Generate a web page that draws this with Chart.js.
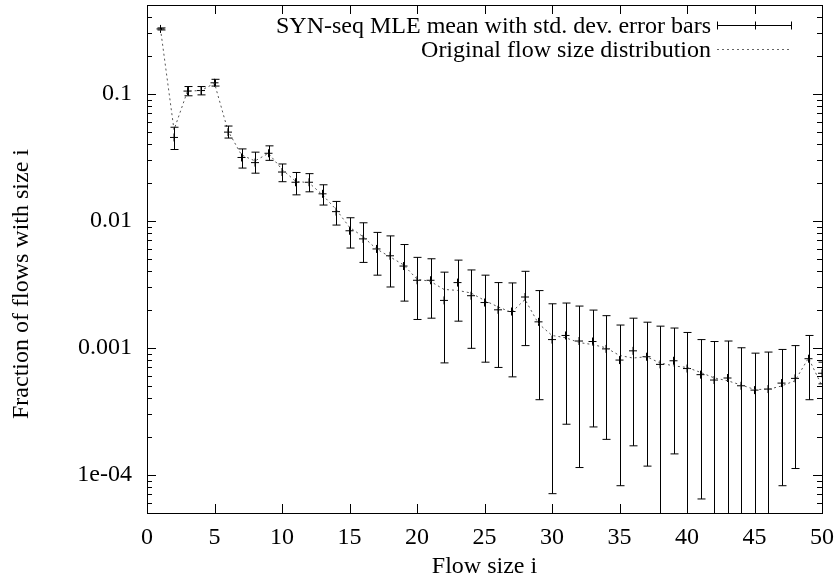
<!DOCTYPE html>
<html>
<head>
<meta charset="utf-8">
<title>Flow size distribution</title>
<script src="https://cdn.jsdelivr.net/npm/chart.js@4.4.1/dist/chart.umd.min.js"></script>
<style>
html,body{margin:0;padding:0;background:#fff;}
#wrap{width:838px;height:585px;}
</style>
</head>
<body>
<div id="wrap"><canvas id="flowChart" width="838" height="585"></canvas></div>
<script>
// flow sizes 1..50
var flowSizes = [1,2,3,4,5,6,7,8,9,10,11,12,13,14,15,16,17,18,19,20,21,22,23,24,25,
	26,27,28,29,30,31,32,33,34,35,36,37,38,39,40,41,42,43,44,45,46,47,48,49,50];

// SYN-seq MLE mean
var mleMean = [0.324,0.0453,0.105,0.106,0.122,0.0499,0.0315,0.0287,0.034,0.0242,
	0.0201,0.0201,0.0163,0.0118,0.00834,0.0072,0.0060,0.0053,0.0044,0.0034,
	0.0034,0.00236,0.00326,0.00257,0.00227,0.00199,0.00193,0.00251,0.0016,0.00116,
	0.00125,0.00113,0.00112,0.00098,0.0008,0.000946,0.00085,0.00074,0.00079,0.000686,
	0.000614,0.000557,0.000578,0.000502,0.000464,0.000473,0.000527,0.000574,0.00082,0.00063];

// mean - std.dev. (bars that run off the bottom get a tiny value)
var mleLow = [0.318,0.0364,0.0964,0.098,0.115,0.0448,0.026,0.0237,0.0299,0.0203,
	0.016,0.0169,0.0133,0.00925,0.0061,0.0047,0.00373,0.00301,0.00233,0.00167,
	0.00171,0.00076,0.00162,0.00099,0.00077,0.0007,0.00059,0.00104,0.00039,0.000071,
	0.00025,0.000114,0.000238,0.00019,0.000082,0.000169,0.000117,0.00001,0.000146,0.00001,
	0.0000645,0.00001,0.00001,0.00001,0.00001,0.00001,0.000082,0.000112,0.00039,0.00052];

// mean + std.dev.
var mleHigh = [0.330,0.0545,0.114,0.114,0.130,0.0557,0.0368,0.0347,0.0389,0.028,
	0.024,0.0235,0.0192,0.0142,0.01056,0.00964,0.0081,0.0076,0.0065,0.00515,
	0.00502,0.00394,0.0049,0.0041,0.00373,0.00326,0.00324,0.0040,0.00282,0.00222,
	0.00225,0.00213,0.00198,0.00179,0.00151,0.00171,0.00159,0.00148,0.00143,0.00132,
	0.00116,0.00112,0.00113,0.0010,0.000907,0.000925,0.00097,0.00104,0.00125,0.00077];

// original flow size distribution
var origDist = [0.324,0.052,0.105,0.106,0.121,0.051,0.033,0.0296,0.034,0.0254,
	0.0205,0.0199,0.016,0.0123,0.0089,0.0075,0.006,0.0052,0.0045,0.00347,
	0.00333,0.00288,0.00283,0.0027,0.00236,0.0021,0.0019,0.0024,0.00155,0.00125,
	0.0012,0.0011,0.00106,0.001,0.00087,0.00083,0.00085,0.00076,0.00072,0.0007,
	0.00064,0.00058,0.00055,0.00051,0.00047,0.00047,0.0005,0.00055,0.00083,0.0005];

var xTickValues = [0,5,10,15,20,25,30,35,40,45,50];
var yTickValues = [0.0001,0.001,0.01,0.1];
var yTickLabels = ['1e-04','0.001','0.01','0.1'];

var seriesNames = ['SYN-seq MLE mean with std. dev. error bars','Original flow size distribution'];
var yTitle = 'Fraction of flows with size i';

var FONT = '"Liberation Serif", "Times New Roman", serif';
Chart.defaults.font.family = FONT;
Chart.defaults.font.size = 24;
Chart.defaults.color = '#000';

function toPoints(vals){
	var pts = [];
	for(var i=0;i<flowSizes.length;i++){
		pts.push({x: flowSizes[i], y: vals[i]});
	}
	return pts;
}

//------------------------------------------------------------//
//--------------------ERROR BARS------------------------------//
//------------------------------------------------------------//
var errorBarPlugin = {
	id: 'errorBars',
	afterDatasetsDraw: function(chart){
		var ctx = chart.ctx, xa = chart.scales.x, ya = chart.scales.y, area = chart.chartArea;
		ctx.save();
		ctx.beginPath();
		ctx.rect(area.left, area.top, area.right-area.left+1, area.bottom-area.top);
		ctx.clip();
		ctx.strokeStyle = '#000';
		ctx.lineWidth = 1;
		for(var i=0;i<flowSizes.length;i++){
			var px = Math.round(xa.getPixelForValue(flowSizes[i]))+0.5;
			var yTop = ya.getPixelForValue(mleHigh[i]);
			var yBot = ya.getPixelForValue(mleLow[i]);
			ctx.beginPath();
			ctx.moveTo(px, yTop); ctx.lineTo(px, yBot);
			ctx.moveTo(px-4, yTop); ctx.lineTo(px+4, yTop);
			ctx.moveTo(px-4, yBot); ctx.lineTo(px+4, yBot);
			ctx.stroke();
		}
		ctx.restore();
	}
};

//------------------------------------------------------------//
//--------------------FRAME, TICKS, LEGEND--------------------//
//------------------------------------------------------------//
var framePlugin = {
	id: 'gnuFrame',
	afterDraw: function(chart){
		var ctx = chart.ctx, xa = chart.scales.x, ya = chart.scales.y, a = chart.chartArea;
		ctx.save();
		ctx.strokeStyle = '#000';
		ctx.lineWidth = 1;
		ctx.strokeRect(a.left+0.5, a.top+0.5, a.right-a.left, a.bottom-a.top);
		ctx.beginPath();
		// x ticks, bottom and top, pointing inward
		for(var i=0;i<xTickValues.length;i++){
			var px = Math.round(xa.getPixelForValue(xTickValues[i]))+0.5;
			ctx.moveTo(px, a.bottom); ctx.lineTo(px, a.bottom-9);
			ctx.moveTo(px, a.top); ctx.lineTo(px, a.top+9);
		}
		// y ticks, decades are long, 2..9 short
		for(var d=0.00001; d<1; d*=10){
			for(var m=1;m<10;m++){
				var v = m*d;
				if(v < ya.min || v > ya.max) continue;
				var py = Math.round(ya.getPixelForValue(v))+0.5;
				var len = (m==1) ? 9 : 5;
				ctx.moveTo(a.left, py); ctx.lineTo(a.left+len, py);
				ctx.moveTo(a.right, py); ctx.lineTo(a.right-len, py);
			}
		}
		ctx.stroke();

		// y axis title, sits a bit low like the gnuplot one
		ctx.font = '24px ' + FONT;
		ctx.fillStyle = '#000';
		ctx.save();
		ctx.translate(22, 284);
		ctx.rotate(-Math.PI/2);
		ctx.textAlign = 'center';
		ctx.textBaseline = 'middle';
		ctx.fillText(yTitle, 0, 0);
		ctx.restore();

		// legend, top right
		var textRight = 711, x0 = 717, x1 = 792;
		var rows = [25, 49];
		ctx.textAlign = 'right';
		ctx.textBaseline = 'middle';
		ctx.fillText(seriesNames[0], textRight, rows[0]+2);
		ctx.fillText(seriesNames[1], textRight, rows[1]+2);
		var ry = rows[0]+0.5, cx = Math.round((x0+x1)/2)+0.5;
		ctx.beginPath();
		ctx.moveTo(x0, ry); ctx.lineTo(x1, ry);
		ctx.moveTo(x0+0.5, ry-4); ctx.lineTo(x0+0.5, ry+4);
		ctx.moveTo(x1-0.5, ry-4); ctx.lineTo(x1-0.5, ry+4);
		ctx.moveTo(cx, ry-4); ctx.lineTo(cx, ry+4);
		ctx.stroke();
		ctx.beginPath();
		ctx.strokeStyle = '#666';
		ctx.setLineDash([2,3]);
		ctx.moveTo(x0, rows[1]+0.5); ctx.lineTo(x1, rows[1]+0.5);
		ctx.stroke();
		ctx.restore();
	}
};

var ctx1 = document.getElementById('flowChart').getContext('2d');
var flowChart = new Chart(ctx1, {
	type: 'line',
	data: {
		datasets: [{
			label: seriesNames[1],
			data: toPoints(origDist),
			borderColor: '#555',
			borderWidth: 1,
			borderDash: [2,3],
			pointRadius: 0,
			tension: 0,
			fill: false
		},{
			label: seriesNames[0],
			data: toPoints(mleMean),
			showLine: false,
			pointStyle: 'cross',
			pointRadius: 4,
			pointBorderWidth: 1,
			borderColor: '#000',
			backgroundColor: '#000'
		}]
	},
	options: {
		responsive: false,
		animation: false,
		devicePixelRatio: 1,
		layout: { padding: { left: 0, right: 16, top: 5, bottom: 0 } },
		plugins: { legend: { display: false }, tooltip: { enabled: false } },
		scales: {
			x: {
				type: 'linear',
				min: 0, max: 50,
				grid: { display: false, drawTicks: false },
				border: { display: false },
				ticks: { stepSize: 5, padding: 10, maxRotation: 0, autoSkip: false },
				title: { display: true, text: 'Flow size i', padding: { top: 0, bottom: 4 } },
				afterFit: function(scale){
					scale.height = 72;
					scale.paddingLeft = 0;
					scale.paddingRight = 0;
				}
			},
			y: {
				type: 'logarithmic',
				min: 0.00005, max: 0.5,
				grid: { display: false, drawTicks: false },
				border: { display: false },
				ticks: {
					padding: 15,
					autoSkip: false,
					callback: function(value, index){ return yTickLabels[index]; }
				},
				afterBuildTicks: function(scale){
					scale.ticks = yTickValues.map(function(v){ return {value: v}; });
				},
				title: { display: false },
				afterFit: function(scale){
					scale.width = 147;
					scale.paddingTop = 0;
					scale.paddingBottom = 0;
				}
			}
		}
	},
	plugins: [errorBarPlugin, framePlugin]
});
</script>
</body>
</html>
